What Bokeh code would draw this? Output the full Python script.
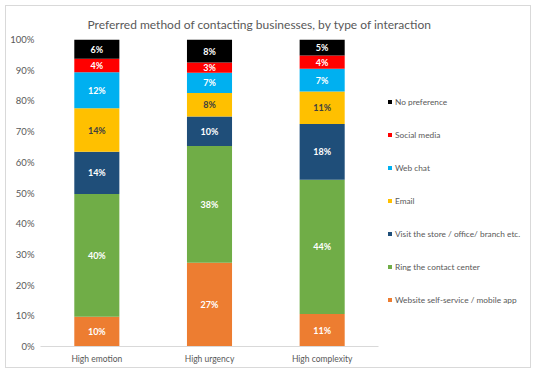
from bokeh.plotting import figure
from bokeh.layouts import column
from bokeh.models import ColumnDataSource, Legend, LegendItem, NumeralTickFormatter, Title, FixedTicker, Range1d
from bokeh.core.properties import value
from bokeh.embed import file_html
from bokeh.resources import INLINE

categories = ["High emotion", "High urgency", "High complexity"]
series_names = [
    "Website self-service / mobile app",
    "Ring the contact center",
    "Visit the store / office/ branch etc.",
    "Email",
    "Web chat",
    "Social media",
    "No preference",
]
website = [9.7, 27.3, 10.6]
ring = [40.0, 38.0, 43.7]
visit = [13.7, 9.6, 18.2]
email = [14.2, 7.7, 10.6]
webchat = [11.7, 6.6, 7.4]
social = [4.4, 3.3, 4.3]
nopref = [6.3, 7.5, 5.2]
colors = ["#ED7D31", "#70AD47", "#1F4E79", "#FFC000", "#00B0F0", "#FF0000", "#000000"]
label_colors = ["#FFFFFF", "#FFFFFF", "#FFFFFF", "#404040", "#FFFFFF", "#FFFFFF", "#FFFFFF"]
y_ticks = [0, 0.1, 0.2, 0.3, 0.4, 0.5, 0.6, 0.7, 0.8, 0.9, 1.0]
title_text = "Preferred method of contacting businesses, by type of interaction"

FONT = "Lato"
GREY = "#595959"

all_series = [website, ring, visit, email, webchat, social, nopref]
keys = ["s%d" % i for i in range(len(all_series))]
xpos = [i + 0.5 for i in range(len(categories))]
data = {"x": xpos}
for k, s in zip(keys, all_series):
    data[k] = [v / 100.0 for v in s]
source = ColumnDataSource(data)

# frame spans the bars area plus the legend area on the right
W, H = 524, 361
ML, MR, MT, MB = 34, 5, 32, 21
frame_w = W - ML - MR
cat_px = 338 / 3.0
x_end = frame_w / cat_px

p = figure(
    x_range=Range1d(0, x_end),
    y_range=Range1d(0, 1),
    width=W, height=H,
    output_backend="svg", toolbar_location=None,
    min_border_left=ML, min_border_right=MR, min_border_top=MT, min_border_bottom=MB,
)
p.outline_line_color = None
p.xgrid.grid_line_color = None
p.ygrid.grid_line_color = None
p.background_fill_color = "white"
p.border_fill_color = "white"

renderers = p.vbar_stack(keys, x="x", width=0.4, color=colors, source=source, line_color=None)

# segment labels
lx, ly, lt, lc = [], [], [], []
for ci, xc in enumerate(xpos):
    bottom = 0.0
    for si, s in enumerate(all_series):
        v = s[ci]
        lx.append(xc)
        ly.append((bottom + v / 2.0) / 100.0)
        lt.append(f"{v:.0f}%")
        lc.append(label_colors[si])
        bottom += v
lsrc = ColumnDataSource(dict(x=lx, y=ly, text=lt, color=lc))
p.text(x="x", y="y", text="text", source=lsrc, text_color="color",
       text_align="center", text_baseline="middle",
       text_font=value(FONT), text_font_size="9px", text_font_style="bold")

# axes
for ax in (p.xaxis, p.yaxis):
    ax.major_tick_line_color = None
    ax.minor_tick_line_color = None
    ax.major_tick_out = 0
    ax.minor_tick_out = 0
    ax.major_tick_in = 0
    ax.minor_tick_in = 0
    ax.axis_label_standoff = 0
    ax.major_label_text_font = FONT
    ax.major_label_text_color = GREY

p.yaxis.ticker = FixedTicker(ticks=y_ticks)
p.yaxis.formatter = NumeralTickFormatter(format="0%")
p.yaxis.axis_line_color = None
p.yaxis.major_label_standoff = 6
p.yaxis.major_label_text_font_size = "9.5px"

p.xaxis.ticker = FixedTicker(ticks=xpos)
p.xaxis.major_label_overrides = {x: c for x, c in zip(xpos, categories)}
p.xaxis.bounds = (0, len(categories))
p.xaxis.axis_line_color = "#d9d9d9"
p.xaxis.major_label_standoff = 7
p.xaxis.major_label_text_font_size = "8.5px"

# title
t = Title(text=title_text, align="left", offset=47, standoff=16, text_font=FONT,
          text_font_size="12px", text_font_style="normal", text_color=GREY)
p.add_layout(t, "above")

# legend
items = [LegendItem(label=n, renderers=[r]) for n, r in zip(series_names, renderers)][::-1]
legend = Legend(items=items, location=(347, 40), padding=0, margin=0,
                glyph_width=5, glyph_height=5, label_height=13, spacing=20,
                label_standoff=3, border_line_color=None, background_fill_alpha=0,
                label_text_font=FONT, label_text_font_size="8.3px", label_text_color=GREY,
                label_text_baseline="middle")
p.add_layout(legend, "center")

page = column(p, width=W + 2, height=H + 2, margin=(5, 0, 0, 5),
              styles={"border": "1px solid #d9d9d9"})
open("out.html", "w").write(file_html(page, INLINE))
